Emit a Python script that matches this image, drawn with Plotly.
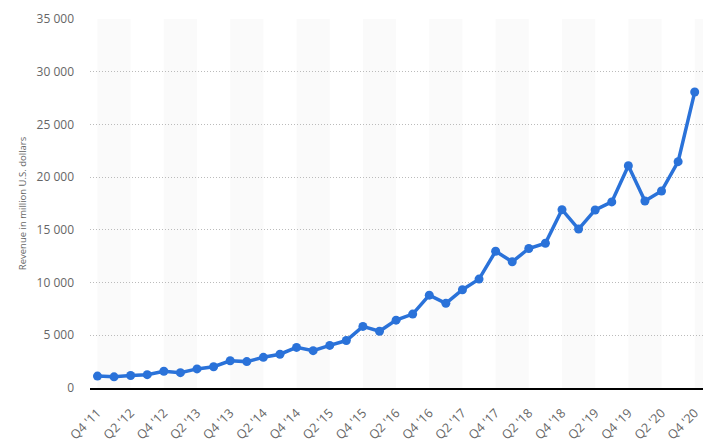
import plotly.graph_objects as go

quarters = ["Q4 '11", "Q1 '12", "Q2 '12", "Q3 '12", "Q4 '12", "Q1 '13", "Q2 '13", "Q3 '13",
            "Q4 '13", "Q1 '14", "Q2 '14", "Q3 '14", "Q4 '14", "Q1 '15", "Q2 '15", "Q3 '15",
            "Q4 '15", "Q1 '16", "Q2 '16", "Q3 '16", "Q4 '16", "Q1 '17", "Q2 '17", "Q3 '17",
            "Q4 '17", "Q1 '18", "Q2 '18", "Q3 '18", "Q4 '18", "Q1 '19", "Q2 '19", "Q3 '19",
            "Q4 '19", "Q1 '20", "Q2 '20", "Q3 '20", "Q4 '20"]
revenue = [1131, 1058, 1184, 1262, 1585, 1458, 1813, 2016,
           2585, 2502, 2910, 3203, 3851, 3543, 4042, 4501,
           5841, 5382, 6436, 7011, 8809, 8032, 9321, 10328,
           12972, 11966, 13231, 13727, 16914, 15077, 16886, 17652,
           21082, 17737, 18687, 21470, 28072]
y_ticks = [0, 5000, 10000, 15000, 20000, 25000, 30000, 35000]
y_tick_text = ["0", "5 000", "10 000", "15 000", "20 000", "25 000", "30 000", "35 000"]

idx = list(range(len(quarters)))
label_idx = idx[::2]
label_text = [quarters[i] for i in label_idx]

fig = go.Figure()
fig.add_trace(go.Scatter(
    x=idx, y=revenue, mode="lines+markers",
    line=dict(color="#2a72d9", width=3.5),
    marker=dict(color="#2a72d9", size=9),
    hoverinfo="skip",
))

shapes = []
for start in range(0, len(quarters), 4):
    shapes.append(dict(type="rect", xref="x", yref="paper", x0=start, x1=start + 2,
                       y0=0, y1=1, fillcolor="#fafafa", line=dict(width=0), layer="below"))

fig.update_layout(
    width=719, height=445,
    margin=dict(l=90, r=16, t=19, b=57),
    paper_bgcolor="white", plot_bgcolor="white",
    showlegend=False,
    shapes=shapes,
    font=dict(family="Open Sans", color="#666666"),
    xaxis=dict(
        range=[-0.45, 36.5],
        tickmode="array", tickvals=label_idx, ticktext=label_text,
        tickangle=-45, tickfont=dict(size=12.5, color="#666666"),
        showgrid=False, zeroline=False,
        showline=True, linecolor="#000000", linewidth=1.5,
        ticks="", ticklabelstandoff=11, fixedrange=True, automargin=False,
    ),
    yaxis=dict(
        range=[0, 35000],
        tickmode="array", tickvals=y_ticks, ticktext=y_tick_text,
        tickfont=dict(size=12, color="#666666"),
        showgrid=True, gridcolor="#bbbbbb", griddash="1px,2px", gridwidth=1,
        zeroline=False, showline=False, ticks="",
        ticklabelstandoff=15, automargin=False,
        title=dict(text="Revenue in million U.S. dollars", font=dict(size=9.5, color="#666666"), standoff=8),
    ),
)

fig.write_html("out.html")
